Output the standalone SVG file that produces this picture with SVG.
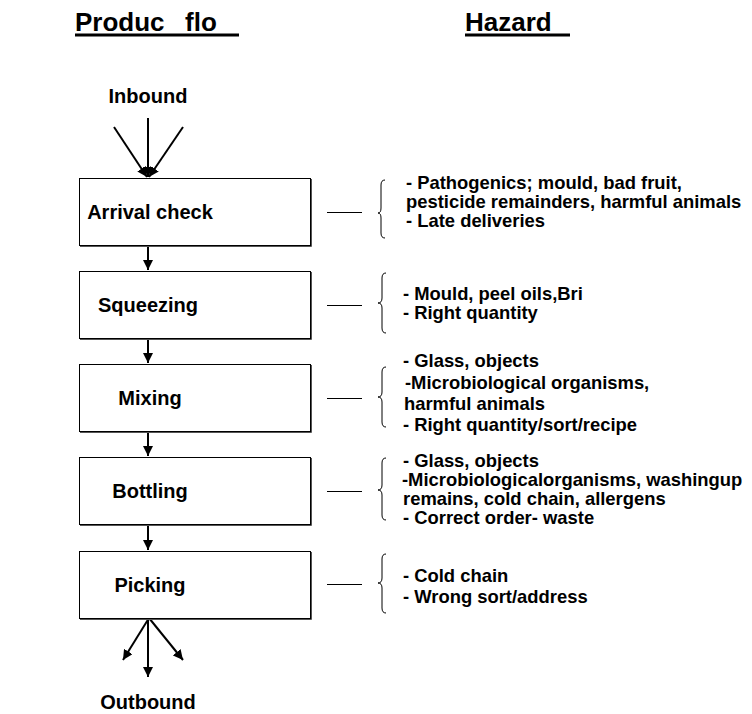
<svg xmlns="http://www.w3.org/2000/svg" width="752" height="714" viewBox="0 0 752 714">
<defs>
<marker id="ah" viewBox="0 0 10 10" refX="10" refY="5" markerWidth="10" markerHeight="10" markerUnits="userSpaceOnUse" orient="auto">
<path d="M0,0 L10,5 L0,10 z" fill="#000"/>
</marker>
<style>
text{font-family:"Liberation Sans",Arial,sans-serif;font-weight:bold;fill:#000}
.hdr{font-size:26px}
.lbl{font-size:20px;text-anchor:middle}
.hz{font-size:18.4px}
.box{fill:#fff;stroke:#000;stroke-width:1}
.shd{fill:none;stroke:#555;stroke-width:1}
.arr{stroke:#000;stroke-width:2;fill:none;marker-end:url(#ah)}
.dash{stroke:#000;stroke-width:1}
.brace{stroke:#000;stroke-width:1;fill:none}
</style>
</defs>
<rect width="752" height="714" fill="#fff"/>
<g id="headers">
<text class="hdr" x="75" y="31">Produc</text>
<text class="hdr" x="185" y="31">flo</text>
<rect x="75" y="33.5" width="164" height="3" fill="#000"/>
<text class="hdr" x="465" y="31">Hazard</text>
<rect x="465" y="33.5" width="105" height="3" fill="#000"/>
</g>
<g id="inbound">
<text class="lbl" x="148" y="103">Inbound</text>
</g>
<g id="outbound">
<text class="lbl" x="148" y="709">Outbound</text>
</g>
<g id="connectors">
<line class="arr" x1="148" y1="118" x2="148" y2="177"/>
<line class="arr" x1="114" y1="127" x2="147" y2="177"/>
<line class="arr" x1="183" y1="127" x2="149" y2="177"/>
<line class="arr" x1="148" y1="245" x2="148" y2="270"/>
<line class="arr" x1="148" y1="338" x2="148" y2="363"/>
<line class="arr" x1="148" y1="431" x2="148" y2="456"/>
<line class="arr" x1="148" y1="524" x2="148" y2="550"/>
<line class="arr" x1="149" y1="618" x2="123" y2="660"/>
<line class="arr" x1="148" y1="618" x2="148" y2="677"/>
<line class="arr" x1="149" y1="618" x2="183" y2="660"/>
<line class="dash" x1="327" y1="212.5" x2="362" y2="212.5"/>
<line class="dash" x1="327" y1="305.5" x2="362" y2="305.5"/>
<line class="dash" x1="327" y1="398.5" x2="362" y2="398.5"/>
<line class="dash" x1="327" y1="491.5" x2="362" y2="491.5"/>
<line class="dash" x1="327" y1="584.5" x2="362" y2="584.5"/>
</g>
<g id="arrival">
<rect class="box" x="79.5" y="178.5" width="231" height="67"/>
<polyline class="shd" points="311.5,179 311.5,246.5 80,246.5"/>
<text class="lbl" x="150" y="219">Arrival check</text>
</g>
<g id="squeezing">
<rect class="box" x="79.5" y="271.5" width="231" height="67"/>
<polyline class="shd" points="311.5,272 311.5,339.5 80,339.5"/>
<text class="lbl" x="148" y="312">Squeezing</text>
</g>
<g id="mixing">
<rect class="box" x="79.5" y="364.5" width="231" height="67"/>
<polyline class="shd" points="311.5,365 311.5,432.5 80,432.5"/>
<text class="lbl" x="150" y="405">Mixing</text>
</g>
<g id="bottling">
<rect class="box" x="79.5" y="457.5" width="231" height="67"/>
<polyline class="shd" points="311.5,458 311.5,525.5 80,525.5"/>
<text class="lbl" x="150" y="498">Bottling</text>
</g>
<g id="picking">
<rect class="box" x="79.5" y="551.5" width="231" height="67"/>
<polyline class="shd" points="311.5,552 311.5,619.5 80,619.5"/>
<text class="lbl" x="150" y="592">Picking</text>
</g>
<g id="hazard-arrival">
<path class="brace" d="M385,180 Q381,180 381,185 L381,208 Q381,213 378,213 Q381,213 381,218 L381,233 Q381,238 385,238"/>
<text class="hz" x="406" y="189">- Pathogenics; mould, bad fruit,</text>
<text class="hz" x="406" y="208">pesticide remainders, harmful animals</text>
<text class="hz" x="406" y="227">- Late deliveries</text>
</g>
<g id="hazard-squeezing">
<path class="brace" d="M386,273 Q382,273 382,278 L382,298 Q382,303 378,303 Q382,303 382,308 L382,328 Q382,333 386,333"/>
<text class="hz" x="403" y="300">- Mould, peel oils,Bri</text>
<text class="hz" x="403" y="319">- Right quantity</text>
</g>
<g id="hazard-mixing">
<path class="brace" d="M386,367 Q382,367 382,372 L382,392 Q382,397 378,397 Q382,397 382,402 L382,422 Q382,427 386,427"/>
<text class="hz" x="403" y="367">- Glass, objects</text>
<text class="hz" x="405" y="389">-Microbiological organisms,</text>
<text class="hz" x="404" y="410">harmful animals</text>
<text class="hz" x="403" y="431">- Right quantity/sort/recipe</text>
</g>
<g id="hazard-bottling">
<path class="brace" d="M386,458 Q382,458 382,463 L382,485 Q382,490 378,490 Q382,490 382,495 L382,515 Q382,520 386,520"/>
<text class="hz" x="403" y="467">- Glass, objects</text>
<text class="hz" x="402" y="486">-Microbiologicalorganisms, washingup</text>
<text class="hz" x="403" y="505">remains, cold chain, allergens</text>
<text class="hz" x="403" y="524">- Correct order- waste</text>
</g>
<g id="hazard-picking">
<path class="brace" d="M386,554 Q382,554 382,559 L382,578 Q382,583 378,583 Q382,583 382,588 L382,608 Q382,613 386,613"/>
<text class="hz" x="403" y="582">- Cold chain</text>
<text class="hz" x="403" y="603">- Wrong sort/address</text>
</g>
</svg>
